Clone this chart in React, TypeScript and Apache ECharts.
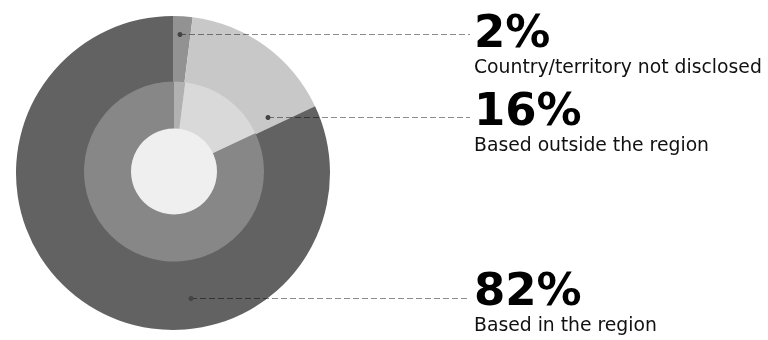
import React, { useEffect, useRef } from "react";
import * as echarts from "echarts";

// Data
const categories = ["Country/territory not disclosed", "Based outside the region", "Based in the region"];
const shares = [2, 16, 82];

// Styles / layout
const outerColors = ["#929292", "#c8c8c8", "#626262"];
const innerColors = ["#b1b1b1", "#d9d9d9", "#878787"];
const centerColor = "#efefef";
const labelX = 474;
const labelTops = [8.8, 86.8, 266.8];
const anchorPoints: [number, number][] = [
  [180, 34.5],
  [268, 117.5],
  [191, 298.5],
];
const lineEndX = 470;

export default function App() {
  const ref = useRef<HTMLDivElement>(null);
  useEffect(() => {
    if (!ref.current) return;
    const chart = echarts.init(ref.current, undefined, { renderer: "svg" });
    const fam = "'DejaVu Sans', 'Liberation Sans', sans-serif";
    const dataFor = (colors: string[]) =>
      categories.map((name, i) => ({
        name,
        value: shares[i],
        itemStyle: { color: colors[i] },
      }));
    chart.setOption({
      animation: false,
      series: [
        {
          type: "pie",
          z: 2,
          center: [173, 173],
          radius: [0, 157],
          startAngle: 90,
          clockwise: true,
          silent: true,
          emphasis: { disabled: true },
          label: { show: false },
          labelLine: { show: false },
          data: dataFor(outerColors),
        },
        {
          type: "pie",
          z: 3,
          center: [174, 171.5],
          radius: [0, 90],
          startAngle: 90,
          clockwise: true,
          silent: true,
          emphasis: { disabled: true },
          label: { show: false },
          labelLine: { show: false },
          data: dataFor(innerColors),
        },
        {
          type: "pie",
          z: 4,
          center: [174, 171.5],
          radius: [0, 43],
          silent: true,
          emphasis: { disabled: true },
          label: { show: false },
          labelLine: { show: false },
          data: [{ name: "center", value: 1, itemStyle: { color: centerColor } }],
        },
        {
          // transparent overlay carrying the labels so that leader lines sit on top
          type: "pie",
          z: 10,
          center: [173, 173],
          radius: [0, 157],
          startAngle: 90,
          clockwise: true,
          silent: true,
          avoidLabelOverlap: false,
          emphasis: { disabled: true },
          data: dataFor(["rgba(0,0,0,0)", "rgba(0,0,0,0)", "rgba(0,0,0,0)"]),
          label: {
            show: true,
            position: "outer",
            formatter: (p: any) => `{v|${p.value}%}\n{t|${p.name}}`,
            rich: {
              v: {
                fontFamily: fam,
                fontSize: 45,
                fontWeight: "bold",
                color: "#000",
                lineHeight: 46,
              },
              t: {
                fontFamily: fam,
                fontSize: 18.8,
                color: "#111",
                lineHeight: 23,
              },
            },
          },
          labelLine: {
            show: true,
            showAbove: true,
            lineStyle: { color: "rgba(0,0,0,0.45)", width: 1, type: [6, 3] },
          },
          labelLayout: (params: any) => {
            const i = params.dataIndex;
            const [ax, ay] = anchorPoints[i];
            return {
              x: labelX,
              y: labelTops[i],
              align: "left",
              verticalAlign: "top",
              labelLinePoints: [
                [ax, ay],
                [(ax + lineEndX) / 2, ay],
                [lineEndX, ay],
              ],
            };
          },
        },
      ],
      graphic: anchorPoints.map(([x, y]) => ({
        type: "circle",
        shape: { cx: x, cy: y, r: 2.5 },
        style: { fill: "#444" },
        z: 100,
        silent: true,
      })),
    });
    return () => chart.dispose();
  }, []);
  return (
    <div
      ref={ref}
      style={{ position: "fixed", left: 0, top: 0, width: 768, height: 340 }}
    />
  );
}
